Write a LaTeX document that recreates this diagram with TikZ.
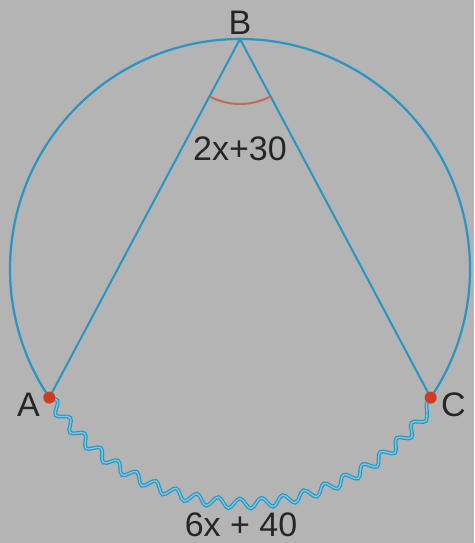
\documentclass[tikz,border=0pt]{standalone}
\usepackage{fontspec}
\setmainfont{Liberation Sans}
\usepackage{tikz}
\usetikzlibrary{positioning, calc, decorations.pathmorphing}

\definecolor{bggray}{RGB}{180,180,180}
\definecolor{circblue}{RGB}{40,150,195}
\definecolor{wavelight}{RGB}{120,200,225}
\definecolor{dotred}{RGB}{205,60,35}
\definecolor{anglered}{RGB}{195,105,85}

\begin{document}
\begin{tikzpicture}[
  x=1pt, y=1pt,
  font=\fontsize{34}{38}\selectfont,
  rim/.style={draw=circblue, line width=2.2pt},
  chord/.style={draw=circblue, line width=2pt},
  wavy/.style={draw=circblue, line width=1.2pt, double=wavelight,
    double distance=1.4pt,
    decorate, decoration={snake, segment length=22pt, amplitude=5pt}},
  vertex/.style={circle, fill=dotred, inner sep=0pt, minimum size=12pt},
  angmark/.style={draw=anglered, line width=2pt},
  lbl/.style={inner sep=0pt, text=black!85},
]
  % background and bounding box
  \fill[bggray] (0,0) rectangle (474,543);
  \useasboundingbox (0,0) rectangle (474,543);

  % circle and points on it
  \coordinate (O) at (240,274);
  \coordinate (B) at ($(O)+(90:230)$);
  \coordinate (A) at ($(O)+(214:230)$);
  \coordinate (C) at ($(O)+(326:230)$);

  % upper arc of the circle
  \draw[rim] (C) arc[start angle=-34, end angle=214, radius=230];

  % wavy intercepted arc
  \draw[wavy] (A) arc[start angle=214, end angle=326, radius=230];

  % inscribed angle
  \draw[chord] (A) -- (B) -- (C);
  \draw[angmark] ($(B)+(242:65)$) arc[start angle=242, end angle=298, radius=65];

  \node[vertex] (dA) at (A) {};
  \node[vertex] (dC) at (C) {};

  % labels
  \node[lbl] (lB) at (240,520) {B};
  \node[lbl, left=3pt of dA, yshift=-7pt] (lA) {A};
  \node[lbl, right=4pt of dC, yshift=-7pt] (lC) {C};
  \node[lbl] (ang) at (240,394) {2x+30};
  \node[lbl] (arcv) at (241,18) {6x + 40};
\end{tikzpicture}
\end{document}
